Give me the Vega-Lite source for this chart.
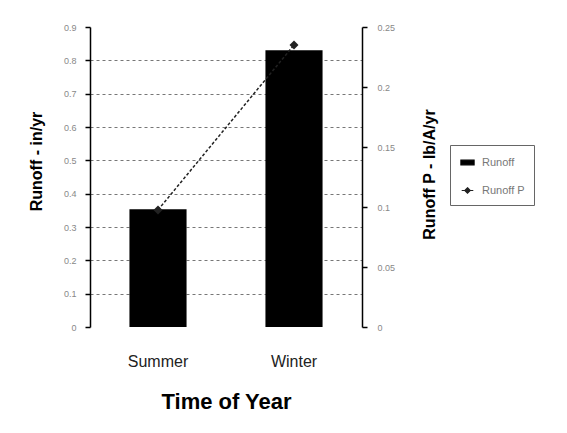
{
  "$schema": "https://vega.github.io/schema/vega-lite/v6.json",
  "width": 272,
  "height": 300,
  "autosize": {"type": "none"},
  "padding": {"left": 90, "top": 27, "right": 205, "bottom": 106},
  "background": "white",
  "data": {"values": [
    {"season": "Summer", "runoff": 0.353, "runoffP": 0.0975},
    {"season": "Winter", "runoff": 0.83, "runoffP": 0.235}
  ]},
  "config": {
    "font": "Liberation Sans",
    "view": {"stroke": null}
  },
  "encoding": {
    "x": {
      "field": "season", "type": "nominal", "sort": ["Summer", "Winter"],
      "scale": {"paddingInner": 0.58, "paddingOuter": 0.29},
      "axis": {
        "title": "Time of Year", "titleFontSize": 22, "titleFontWeight": "bold", "titleColor": "#000",
        "titlePadding": 22, "labelAngle": 0, "labelFontSize": 16, "labelColor": "#222", "labelPadding": 26,
        "domain": false, "ticks": false
      }
    }
  },
  "layer": [
    {
      "mark": {"type": "bar", "color": "black"},
      "encoding": {
        "y": {
          "field": "runoff", "type": "quantitative",
          "scale": {"domain": [0, 0.9], "nice": false},
          "axis": {
            "orient": "left", "title": "Runoff - in/yr", "titleFontSize": 16, "titleFontWeight": "bold",
            "titleColor": "#000", "titleY": 134, "titleX": -54, "titleBaseline": "middle",
            "values": [0, 0.1, 0.2, 0.3, 0.4, 0.5, 0.6, 0.7, 0.8, 0.9],
            "labelExpr": "format(datum.value, '~g')",
            "labelColor": "#888", "labelFontSize": 9, "labelPadding": 9,
            "domainColor": "#000", "domainWidth": 1.5, "tickColor": "#000", "tickSize": 5, "tickWidth": 1.5,
            "grid": true, "gridColor": "#777", "gridDash": [3, 3], "gridWidth": 1,
            "gridOpacity": {"condition": {"test": "datum.value >= 0.9 || datum.value <= 0", "value": 0}, "value": 1}
          }
        },
        "color": {
          "datum": "Runoff", "type": "nominal",
          "scale": {"domain": ["Runoff", "Runoff P"], "range": ["black", "#222"]},
          "legend": {
            "title": null, "orient": "none", "legendX": 360, "legendY": 118,
            "labelColor": "#777", "labelFontSize": 11, "padding": 9, "rowPadding": 14,
            "strokeColor": "#666", "symbolSize": 240, "labelOffset": 6,
            "encode": {
              "symbols": {"update": {
                "shape": {"signal": "datum.label === 'Runoff' ? 'M-0.85,-0.3H0.85V0.3H-0.85Z' : 'M-0.75,0H0.75M0,-0.35L0.35,0L0,0.35L-0.35,0Z'"},
                "fill": {"value": "black"}, "stroke": {"value": "black"}, "strokeWidth": {"value": 1.2}
              }}
            }
          }
        }
      }
    },
    {
      "encoding": {
        "y": {
          "field": "runoffP", "type": "quantitative",
          "scale": {"domain": [0, 0.25], "nice": false},
          "axis": {
            "orient": "right", "title": "Runoff P - lb/A/yr", "titleFontSize": 16, "titleFontWeight": "bold",
            "titleColor": "#000", "titleY": 147, "titleX": 67, "titleAngle": 270, "titleBaseline": "middle",
            "values": [0, 0.05, 0.1, 0.15, 0.2, 0.25],
            "labelExpr": "format(datum.value, '~g')",
            "labelColor": "#888", "labelFontSize": 9, "labelPadding": 10,
            "domainColor": "#000", "domainWidth": 1.5, "tickColor": "#000", "tickSize": 5, "tickWidth": 1.5,
            "grid": false
          }
        },
        "color": {"datum": "Runoff P", "type": "nominal"}
      },
      "layer": [
        {"mark": {"type": "line", "strokeDash": [3, 2], "strokeWidth": 1.5}},
        {"mark": {"type": "point", "shape": "diamond", "filled": true, "size": 80, "opacity": 1}}
      ]
    }
  ],
  "resolve": {"scale": {"y": "independent"}}
}
